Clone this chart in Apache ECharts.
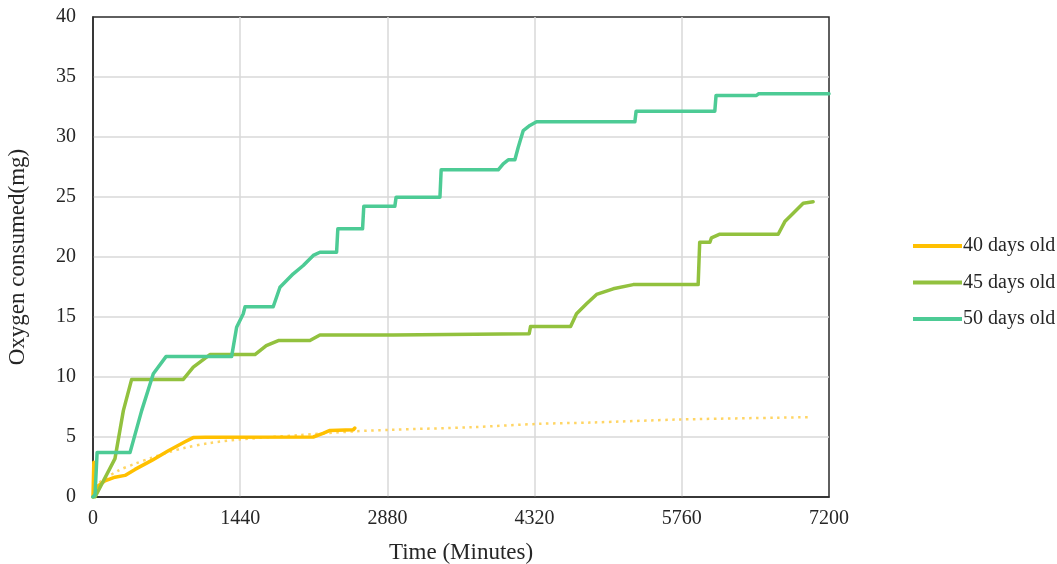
<!DOCTYPE html>
<html>
<head>
<meta charset="utf-8">
<script src="https://cdn.jsdelivr.net/npm/echarts@6/dist/echarts.min.js"></script>
<style>
  html, body { margin: 0; padding: 0; background: #fff; }
  #chart { width: 1057px; height: 564px; }
</style>
</head>
<body>
<div id="chart"></div>
<script>
// Cumulative oxygen consumption (mg) against time (minutes)
const xTicks = [0, 1440, 2880, 4320, 5760, 7200];
const yTicks = [0, 5, 10, 15, 20, 25, 30, 35, 40];

const seriesNames = ['40 days old', '45 days old', '50 days old'];

const days40Minutes = [0, 8, 14, 36, 117, 215, 313, 411, 575, 737, 900, 980, 1100, 2155, 2250, 2318, 2546, 2562];
const days40Oxygen  = [0, 2.9, 0.4, 0.85, 1.35, 1.65, 1.8, 2.3, 3.05, 3.85, 4.6, 4.95, 4.97, 5.0, 5.3, 5.55, 5.6, 5.75];

const days45Minutes = [0, 20, 215, 297, 378, 883, 981, 1144, 1584, 1695, 1813, 2122, 2220, 2934, 2950, 4267, 4280, 4672, 4730, 4828, 4926, 5089, 5285, 5920, 5935, 6035, 6050, 6132, 6703, 6768, 6850, 6948, 7045];
const days45Oxygen  = [0, 0, 3.2, 7.2, 9.8, 9.8, 10.82, 11.87, 11.87, 12.62, 13.04, 13.04, 13.5, 13.5, 13.6, 13.6, 14.2, 14.2, 15.27, 16.1, 16.88, 17.35, 17.7, 17.7, 21.23, 21.23, 21.6, 21.9, 21.9, 22.95, 23.64, 24.48, 24.6];

const days50Minutes = [0, 20, 40, 362, 476, 590, 714, 1356, 1405, 1470, 1487, 1763, 1829, 1894, 1959, 2057, 2155, 2220, 2383, 2395, 2637, 2649, 2953, 2965, 3394, 3406, 3964, 4013, 4062, 4127, 4160, 4209, 4274, 4339, 5301, 5313, 6083, 6095, 6490, 6510, 7200];
const days50Oxygen  = [0, 0.2, 3.7, 3.7, 7.2, 10.27, 11.7, 11.7, 14.15, 15.27, 15.85, 15.85, 17.48, 18.04, 18.6, 19.29, 20.13, 20.4, 20.4, 22.35, 22.35, 24.23, 24.23, 24.98, 24.98, 27.27, 27.27, 27.77, 28.1, 28.1, 29.15, 30.54, 30.96, 31.27, 31.27, 32.15, 32.15, 33.46, 33.46, 33.6, 33.6];

// Dotted trend for the 40-day group
const trend40Minutes = [30, 68, 248, 411, 575, 737, 900, 1128, 1440, 2000, 2578, 2905, 3720, 4372, 4861, 5741, 7012];
const trend40Oxygen  = [0.7, 1.23, 2.2, 2.77, 3.27, 3.73, 4.1, 4.48, 4.8, 5.15, 5.48, 5.6, 5.82, 6.1, 6.2, 6.46, 6.65];

const zip = (xs, ys) => xs.map((x, i) => [x, ys[i]]);

const serif = '"Liberation Serif", "Times New Roman", serif';
const textColor = '#262626';
const colors = ['#FFC000', '#92C13E', '#4DCB95'];

const chart = echarts.init(document.getElementById('chart'), null, { renderer: 'canvas' });

const lineSeries = (name, data, color) => ({
  name: name,
  type: 'line',
  data: data,
  showSymbol: false,
  symbol: 'none',
  lineStyle: { color: color, width: 3.5, join: 'round', cap: 'round' },
  itemStyle: { color: color },
  emphasis: { disabled: true },
  animation: false
});

chart.setOption({
  animation: false,
  color: colors,
  grid: {
    left: 93, top: 17, width: 736, height: 480,
    outerBoundsMode: 'none',
    containLabel: false,
    show: true, borderColor: '#2b2b2b', borderWidth: 1.5, backgroundColor: 'transparent'
  },
  legend: {
    orient: 'vertical',
    left: 908,
    top: 231,
    itemWidth: 49,
    itemHeight: 4,
    itemGap: 16.5,
    icon: 'rect',
    data: seriesNames,
    textStyle: { fontFamily: serif, fontSize: 20, color: textColor, padding: [0, 0, 0, -4] }
  },
  xAxis: {
    type: 'value',
    min: xTicks[0],
    max: xTicks[xTicks.length - 1],
    interval: xTicks[1] - xTicks[0],
    name: 'Time (Minutes)',
    nameLocation: 'middle',
    nameGap: 44,
    nameTextStyle: { fontFamily: serif, fontSize: 23, color: textColor },
    axisLine: { show: true, lineStyle: { color: '#2b2b2b', width: 1.5 } },
    axisTick: { show: false },
    axisLabel: { fontFamily: serif, fontSize: 20, color: textColor, margin: 12, formatter: v => String(v) },
    splitLine: { show: true, showMinLine: false, showMaxLine: false, lineStyle: { color: '#D9D9D9', width: 1.5 } }
  },
  yAxis: {
    type: 'value',
    min: yTicks[0],
    max: yTicks[yTicks.length - 1],
    interval: yTicks[1] - yTicks[0],
    name: 'Oxygen consumed(mg)',
    nameLocation: 'middle',
    nameRotate: 90,
    nameGap: 64,
    nameTextStyle: { fontFamily: serif, fontSize: 23, color: textColor },
    axisLine: { show: true, lineStyle: { color: '#2b2b2b', width: 1.5 } },
    axisTick: { show: false },
    axisLabel: { fontFamily: serif, fontSize: 20, color: textColor, margin: 17, formatter: v => String(v) },
    splitLine: { show: true, showMinLine: false, showMaxLine: false, lineStyle: { color: '#D9D9D9', width: 1.5 } }
  },
  series: [
    {
      name: 'trend-40',
      type: 'line',
      data: zip(trend40Minutes, trend40Oxygen),
      showSymbol: false,
      symbol: 'none',
      smooth: 0.3,
      lineStyle: { color: '#FFD35C', width: 2.5, type: [2.5, 4.5], opacity: 0.95 },
      emphasis: { disabled: true },
      z: 1
    },
    lineSeries(seriesNames[0], zip(days40Minutes, days40Oxygen), colors[0]),
    lineSeries(seriesNames[1], zip(days45Minutes, days45Oxygen), colors[1]),
    lineSeries(seriesNames[2], zip(days50Minutes, days50Oxygen), colors[2])
  ]
});
</script>
</body>
</html>
